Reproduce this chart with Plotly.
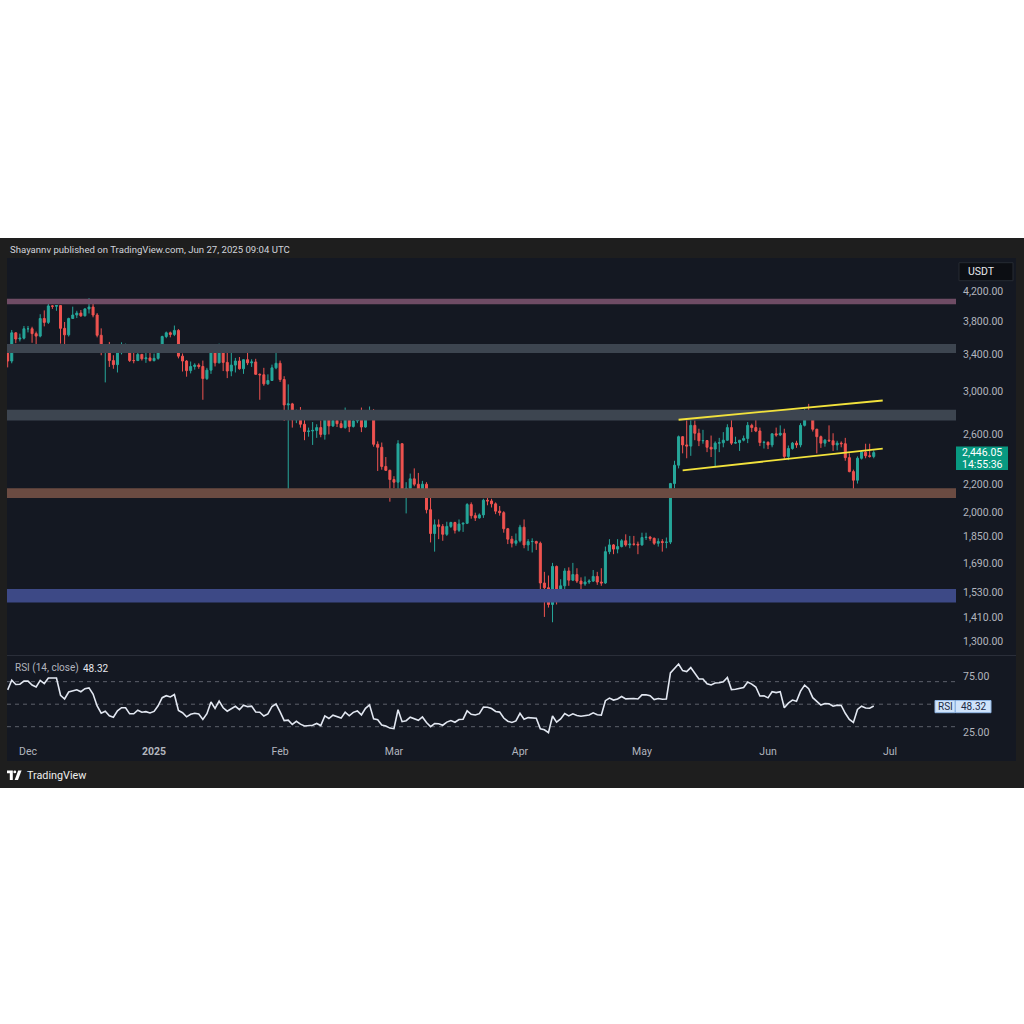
import numpy as np
import pandas as pd
import plotly.graph_objects as go

# ---------------- data (ETH/USDT daily) ----------------
dates = pd.date_range("2024-11-26", "2025-06-27", freq="D")

open_ = [
    # Nov 26-30
    3415, 3325, 3655, 3580, 3590,
    # Dec
    3705, 3705, 3645, 3615, 3835, 3785, 4000, 3995, 4005, 3710, 3630, 3835, 3880, 3905, 3870, 3960,
    3985, 3880, 3625, 3425, 3470, 3330, 3285, 3420, 3490, 3490, 3330, 3330, 3400, 3350, 3360,
    # Jan
    3330, 3355, 3450, 3610, 3655, 3635, 3685, 3380, 3325, 3220, 3265, 3280, 3265, 3135, 3225, 3450,
    3305, 3475, 3310, 3215, 3280, 3325, 3240, 3340, 3305, 3315, 3180, 3175, 3080, 3115, 3250,
    # Feb
    3300, 3125, 2870, 2880, 2730, 2785, 2690, 2625, 2630, 2635, 2660, 2600, 2740, 2675, 2725, 2695,
    2660, 2745, 2670, 2720, 2740, 2665, 2760, 2815, 2515, 2490, 2335, 2305,
    # Mar
    2235, 2215, 2520, 2150, 2170, 2240, 2200, 2140, 2200, 2020, 1865, 1920, 1910, 1860, 1910, 1935,
    1885, 1925, 1930, 2055, 1980, 1965, 1985, 2085, 2080, 2060, 2010, 2000, 1895, 1830, 1805,
    # Apr
    1820, 1905, 1795, 1815, 1816, 1805, 1580, 1555, 1470, 1670, 1520, 1565, 1645, 1595, 1625, 1590,
    1575, 1585, 1590, 1615, 1585, 1580, 1755, 1795, 1770, 1785, 1820, 1795, 1800, 1799,
    # May
    1795, 1840, 1842, 1835, 1805, 1815, 1810, 1812, 2205, 2345, 2580, 2510, 2500, 2680, 2610, 2545,
    2547, 2490, 2475, 2525, 2528, 2550, 2660, 2525, 2530, 2550, 2565, 2680, 2660, 2630, 2530,
    # Jun 1-27
    2532, 2510, 2605, 2595, 2610, 2415, 2480, 2525, 2510, 2680, 2815, 2770, 2645, 2580, 2525, 2550,
    2545, 2510, 2525, 2520, 2405, 2295, 2230, 2400, 2450, 2420, 2415,
]
high = [
    3450, 3690, 3660, 3645, 3740,
    3740, 3730, 3670, 3890, 3940, 4085, 4010, 4010, 4005, 3790, 3845, 3990, 3935, 3945, 3970, 4105,
    4060, 3905, 3710, 3495, 3545, 3390, 3450, 3540, 3525, 3520, 3450, 3420, 3405, 3425, 3430,
    3410, 3495, 3620, 3670, 3670, 3745, 3700, 3410, 3335, 3320, 3300, 3300, 3330, 3250, 3470, 3450,
    3525, 3495, 3450, 3450, 3360, 3370, 3345, 3430, 3345, 3350, 3190, 3250, 3180, 3285, 3440,
    3330, 3160, 3075, 2890, 2825, 2850, 2800, 2660, 2710, 2690, 2725, 2790, 2745, 2790, 2730, 2725,
    2845, 2780, 2735, 2760, 2845, 2790, 2855, 2830, 2540, 2530, 2410, 2310,
    2260, 2550, 2525, 2215, 2280, 2320, 2285, 2225, 2215, 2150, 1955, 1955, 1925, 1940, 1940, 1940,
    1955, 1935, 2065, 2070, 2000, 1995, 2095, 2105, 2095, 2070, 2045, 2010, 1900, 1850, 1865,
    1920, 1955, 1830, 1835, 1820, 1815, 1640, 1620, 1690, 1675, 1600, 1660, 1665, 1690, 1660, 1610,
    1615, 1600, 1650, 1640, 1660, 1785, 1830, 1800, 1830, 1830, 1860, 1850, 1850, 1815,
    1870, 1870, 1850, 1840, 1835, 1830, 1840, 2210, 2380, 2590, 2585, 2740, 2730, 2725, 2650, 2640,
    2550, 2590, 2540, 2570, 2620, 2690, 2735, 2580, 2550, 2590, 2710, 2695, 2790, 2660, 2545,
    2540, 2610, 2660, 2680, 2650, 2505, 2535, 2545, 2700, 2830, 2880, 2780, 2650, 2590, 2560, 2680,
    2610, 2545, 2540, 2570, 2440, 2310, 2415, 2465, 2520, 2520, 2465,
]
low = [
    3255, 3300, 3530, 3550, 3575,
    3660, 3535, 3500, 3600, 3735, 3765, 3960, 3935, 3525, 3500, 3610, 3830, 3840, 3855, 3860, 3900,
    3850, 3600, 3390, 3095, 3260, 3240, 3200, 3400, 3440, 3315, 3300, 3325, 3330, 3305, 3320,
    3320, 3340, 3440, 3590, 3600, 3615, 3355, 3210, 3155, 3190, 3230, 3240, 2920, 3120, 3185, 3265,
    3300, 3215, 3140, 3160, 3200, 3230, 3185, 3280, 3260, 3180, 2920, 3060, 3070, 3110, 3235,
    3100, 2720, 2125, 2660, 2700, 2660, 2550, 2580, 2510, 2570, 2575, 2555, 2600, 2665, 2665, 2655,
    2650, 2620, 2660, 2700, 2620, 2660, 2740, 2495, 2300, 2310, 2300, 2075,
    2170, 2145, 2115, 1995, 2150, 2185, 2105, 2130, 1995, 1810, 1755, 1830, 1820, 1850, 1900, 1865,
    1875, 1875, 1925, 1960, 1945, 1960, 1965, 2050, 2035, 1990, 1980, 1870, 1800, 1780, 1790,
    1810, 1775, 1760, 1750, 1765, 1540, 1410, 1455, 1385, 1470, 1505, 1545, 1565, 1590, 1580, 1540,
    1565, 1575, 1585, 1570, 1565, 1575, 1740, 1740, 1745, 1780, 1785, 1775, 1790, 1740,
    1790, 1825, 1820, 1795, 1785, 1755, 1775, 1800, 2170, 2320, 2440, 2400, 2420, 2550, 2500, 2520,
    2450, 2410, 2330, 2450, 2490, 2545, 2510, 2520, 2460, 2540, 2525, 2620, 2620, 2500, 2480,
    2475, 2490, 2580, 2585, 2390, 2385, 2470, 2485, 2490, 2670, 2740, 2625, 2440, 2485, 2495, 2535,
    2460, 2465, 2490, 2380, 2290, 2110, 2205, 2390, 2400, 2405, 2400,
]
close = [
    3325, 3655, 3580, 3590, 3705,
    3705, 3645, 3615, 3835, 3785, 4000, 3995, 4005, 3710, 3630, 3835, 3880, 3905, 3870, 3960, 3985,
    3880, 3625, 3425, 3470, 3330, 3285, 3420, 3490, 3490, 3330, 3330, 3400, 3350, 3360, 3330,
    3355, 3450, 3610, 3655, 3635, 3685, 3380, 3325, 3220, 3265, 3280, 3265, 3135, 3225, 3450, 3305,
    3475, 3310, 3215, 3280, 3325, 3240, 3340, 3305, 3315, 3180, 3175, 3080, 3115, 3250, 3300,
    3125, 2870, 2880, 2730, 2785, 2690, 2625, 2630, 2635, 2660, 2600, 2740, 2675, 2725, 2695, 2660,
    2745, 2670, 2720, 2740, 2665, 2760, 2815, 2515, 2490, 2335, 2305, 2235,
    2215, 2520, 2150, 2170, 2240, 2200, 2140, 2200, 2020, 1865, 1920, 1910, 1860, 1910, 1935, 1885,
    1925, 1930, 2055, 1980, 1965, 1985, 2085, 2080, 2060, 2010, 2000, 1895, 1830, 1805, 1820,
    1905, 1795, 1815, 1816, 1805, 1580, 1555, 1470, 1670, 1520, 1565, 1645, 1595, 1625, 1590, 1575,
    1585, 1590, 1615, 1585, 1580, 1755, 1795, 1770, 1785, 1820, 1795, 1800, 1799, 1795,
    1840, 1842, 1835, 1805, 1815, 1810, 1812, 2205, 2345, 2580, 2510, 2500, 2680, 2610, 2545, 2547,
    2490, 2475, 2525, 2528, 2550, 2660, 2525, 2530, 2550, 2565, 2680, 2660, 2630, 2530, 2532,
    2510, 2605, 2595, 2610, 2415, 2480, 2525, 2510, 2680, 2815, 2770, 2645, 2580, 2525, 2550, 2545,
    2510, 2525, 2520, 2405, 2295, 2230, 2400, 2450, 2420, 2415, 2446.05,
]
# closes before the visible window (Oct 27 - Nov 25 2024), used only to seed RSI(14)
warmup_close = [2505, 2570, 2640, 2660, 2515, 2515, 2490, 2455, 2400, 2425, 2720, 2895, 2960, 3130,
                3185, 3370, 3245, 3185, 3060, 3090, 3130, 3075, 3205, 3105, 3070, 3355, 3330, 3395,
                3360, 3415]

price_ticks = [4200, 3800, 3400, 3000, 2600, 2200, 2000, 1850, 1690, 1530, 1410, 1300]
rsi_ticks = [75, 25]
rsi_bands = [70, 50, 30]
month_ticks = ["2024-12-01", "2025-01-01", "2025-02-01", "2025-03-01", "2025-04-01",
               "2025-05-01", "2025-06-01", "2025-07-01"]
month_labels = ["Dec", "<b>2025</b>", "Feb", "Mar", "Apr", "May", "Jun", "Jul"]

# horizontal zones: (low price, high price, colour)
zone_low = [4021, 3416, 2725, 2100, 1480]
zone_high = [4098, 3520, 2825, 2171, 1548]
zone_color = ["#6f4c65", "#3d4550", "#3d4550", "#6b4b42", "#3d4986"]

# ascending channel (yellow)
chan_upper_x = ["2025-05-10", "2025-06-29 05:00"]
chan_upper_y = [2731, 2913]
chan_lower_x = ["2025-05-11", "2025-06-29 05:00"]
chan_lower_y = [2305, 2479]

last_price = "2,446.05"
countdown = "14:55:36"
rsi_last = "48.32"


def rsi_wilder(values, n=14):
    s = np.asarray(values, dtype=float)
    d = np.diff(s)
    g = np.where(d > 0, d, 0.0)
    l = np.where(d < 0, -d, 0.0)
    ag, al = g[:n].mean(), l[:n].mean()
    out = [np.nan] * n + [100 - 100 / (1 + ag / al)]
    for i in range(n, len(d)):
        ag = (ag * (n - 1) + g[i]) / n
        al = (al * (n - 1) + l[i]) / n
        out.append(100 - 100 / (1 + ag / al))
    return out


rsi_vals = rsi_wilder(warmup_close + close)[len(warmup_close):]

# ---------------- layout helpers ----------------
W = H = 1024


def px(x):
    return x / W


def py(y):
    return 1 - y / H


FONT = "Roboto, 'Noto Sans', sans-serif"
TXT = "#b2b5be"
PANE = "#141822"
FRAME = "#1e1e1e"
x_range = ["2024-11-25 20:00", "2025-07-17 05:30"]

fig = go.Figure()

# zones as filled bands spanning the full time range
for lo, hi, col in zip(zone_low, zone_high, zone_color):
    fig.add_trace(go.Scatter(
        x=[x_range[0], x_range[1], x_range[1], x_range[0]], y=[lo, lo, hi, hi],
        mode="lines", fill="toself", fillcolor=col, line=dict(width=0, color=col),
        showlegend=False, xaxis="x", yaxis="y", hoverinfo="skip"))

fig.add_trace(go.Candlestick(
    x=dates, open=open_, high=high, low=low, close=close,
    increasing=dict(line=dict(color="#26a69a", width=1), fillcolor="#26a69a"),
    decreasing=dict(line=dict(color="#ef5350", width=1), fillcolor="#ef5350"),
    whiskerwidth=0, showlegend=False, xaxis="x", yaxis="y", hoverinfo="skip",
))
for cx, cy in [(chan_upper_x, chan_upper_y), (chan_lower_x, chan_lower_y)]:
    fig.add_trace(go.Scatter(x=cx, y=cy, mode="lines", line=dict(color="#f2e23c", width=1.8),
                             showlegend=False, xaxis="x", yaxis="y", hoverinfo="skip"))

fig.add_trace(go.Scatter(x=dates, y=rsi_vals, mode="lines",
                         line=dict(color="#e2e7f1", width=1.6),
                         showlegend=False, xaxis="x2", yaxis="y2", hoverinfo="skip"))

shapes = [
    dict(type="rect", xref="paper", yref="paper", x0=0, x1=1, y0=py(788), y1=py(238),
         fillcolor=FRAME, line_width=0, layer="below"),
    dict(type="rect", xref="paper", yref="paper", x0=px(7), x1=px(1016), y0=py(761), y1=py(258),
         fillcolor=PANE, line_width=0, layer="below"),
    dict(type="line", xref="paper", yref="paper", x0=px(7), x1=px(1016), y0=py(655.5), y1=py(655.5),
         line=dict(color="#2a2e39", width=1), layer="below"),
]
for b in rsi_bands:
    shapes.append(dict(type="line", xref="x2 domain", yref="y2", x0=0, x1=1, y0=b, y1=b,
                       line=dict(color="#5d606b", width=1, dash="4px,4px"), layer="below"))
# USDT box
shapes.append(dict(type="rect", xref="paper", yref="paper", x0=px(959), x1=px(1013),
                   y0=py(280.7), y1=py(262.7), fillcolor="#0c0e13",
                   line=dict(color="#262a33", width=1)))
# last price box
shapes.append(dict(type="rect", xref="paper", yref="paper", x0=px(956), x1=px(1008),
                   y0=py(470), y1=py(446.5), fillcolor="#089981", line_width=0))
# RSI boxes
shapes.append(dict(type="rect", xref="paper", yref="paper", x0=px(935), x1=px(955),
                   y0=py(712.7), y1=py(700.5), fillcolor="#cfe3fa",
                   line=dict(color="#8fb5e3", width=1)))
shapes.append(dict(type="rect", xref="paper", yref="paper", x0=px(955.5), x1=px(991),
                   y0=py(712.7), y1=py(700.5), fillcolor="#cfe3fa",
                   line=dict(color="#8fb5e3", width=1)))


def path(points):
    return "M " + " L ".join(f"{px(x):.5f},{py(y):.5f}" for x, y in points) + " Z"


# TradingView logo (simplified)
shapes.append(dict(type="path", xref="paper", yref="paper",
                   path=path([(7, 770.5), (12.8, 770.5), (12.8, 780), (9.8, 780), (9.8, 773.2), (7, 773.2)]),
                   fillcolor="#ffffff", line_width=0))
shapes.append(dict(type="circle", xref="paper", yref="paper", x0=px(13.4), x1=px(16.2),
                   y0=py(773.3), y1=py(770.5), fillcolor="#ffffff", line_width=0))
shapes.append(dict(type="path", xref="paper", yref="paper",
                   path=path([(14.6, 780), (18.2, 770.5), (21.6, 770.5), (18, 780)]),
                   fillcolor="#ffffff", line_width=0))

annotations = [
    dict(x=px(7.5), y=py(249.5), xref="paper", yref="paper", xanchor="left", yanchor="middle",
         text="Shayannv published on TradingView.com, Jun 27, 2025 09:04 UTC", showarrow=False,
         font=dict(family=FONT, size=9.6, color="#d1d4dc")),
    dict(x=px(965.5), y=py(271.7), xref="paper", yref="paper", xanchor="left", yanchor="middle",
         text="USDT", showarrow=False, font=dict(family=FONT, size=10.5, color="#e6e8ee")),
    dict(x=px(982), y=py(452.8), xref="paper", yref="paper", xanchor="center", yanchor="middle",
         text=last_price, showarrow=False, font=dict(family=FONT, size=10.5, color="#ffffff")),
    dict(x=px(982), y=py(464.3), xref="paper", yref="paper", xanchor="center", yanchor="middle",
         text=countdown, showarrow=False, font=dict(family=FONT, size=10.5, color="#ffffff")),
    dict(x=px(13.3), y=py(668.3), xref="paper", yref="paper", xanchor="left", yanchor="middle",
         text="RSI (14, close)", showarrow=False, font=dict(family=FONT, size=10, color=TXT)),
    dict(x=px(81), y=py(668.3), xref="paper", yref="paper", xanchor="left", yanchor="middle",
         text=rsi_last, showarrow=False, font=dict(family=FONT, size=10, color="#e6e8ee")),
    dict(x=px(945), y=py(706.6), xref="paper", yref="paper", xanchor="center", yanchor="middle",
         text="RSI", showarrow=False, font=dict(family=FONT, size=10, color="#1c2a45")),
    dict(x=px(973.3), y=py(706.6), xref="paper", yref="paper", xanchor="center", yanchor="middle",
         text=rsi_last, showarrow=False, font=dict(family=FONT, size=10, color="#1c2a45")),
    dict(x=px(24.5), y=py(775), xref="paper", yref="paper", xanchor="left", yanchor="middle",
         text="TradingView", showarrow=False, font=dict(family=FONT, size=10.8, color="#eeeeee")),
]

fig.update_layout(
    width=W, height=H, margin=dict(l=0, r=0, t=0, b=0),
    paper_bgcolor="#ffffff", plot_bgcolor="rgba(0,0,0,0)",
    showlegend=False, hovermode=False,
    shapes=shapes, annotations=annotations,
    xaxis=dict(domain=[px(7), px(956)], range=x_range, anchor="y", showticklabels=False,
               showgrid=False, zeroline=False, showline=False, ticks="",
               rangeslider=dict(visible=False), type="date"),
    yaxis=dict(domain=[py(655), py(258)], type="log",
               range=[np.log10(1241), np.log10(4697)], side="right", anchor="x",
               tickvals=price_ticks, ticktext=[f"{v:,.2f}" for v in price_ticks],
               tickfont=dict(family=FONT, size=10.5, color=TXT), ticks="",
               ticklabelstandoff=6, showgrid=False, zeroline=False, showline=False),
    xaxis2=dict(domain=[px(7), px(956)], range=x_range, anchor="y2", matches="x",
                tickvals=month_ticks, ticktext=month_labels, ticks="",
                tickfont=dict(family=FONT, size=10.5, color=TXT), ticklabelstandoff=2,
                showgrid=False, zeroline=False, showline=False, type="date"),
    yaxis2=dict(domain=[py(741), py(656)], range=[17.3, 92.8], side="right", anchor="x2",
                tickvals=rsi_ticks, ticktext=[f"{v:.2f}" for v in rsi_ticks],
                tickfont=dict(family=FONT, size=10.5, color=TXT), ticks="",
                ticklabelstandoff=6, showgrid=False, zeroline=False, showline=False),
)

fig.write_html("out.html")
